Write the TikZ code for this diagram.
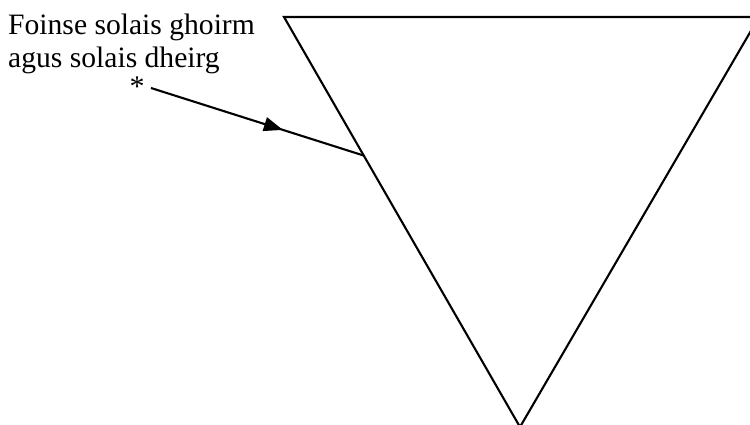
\documentclass[tikz,border=0pt]{standalone}
\usepackage{fontspec}
\setmainfont{Liberation Serif}
\usetikzlibrary{arrows.meta,decorations.markings,calc}
\begin{document}
\begin{tikzpicture}[x=1pt,y=-1pt,
  outline/.style={line width=2.1pt,line join=miter},
  pointer/.style={line width=2.1pt,
    decoration={markings,mark=at position 0.62 with {\arrow{Triangle[length=19pt,width=14pt]}}},
    postaction={decorate}},
  label/.style={font=\fontsize{29.6}{33}\selectfont,align=left,inner sep=0pt}]
\useasboundingbox (0,0) rectangle (750,425);
\clip (0,0) rectangle (750,425);
\coordinate (A) at (284,17);
\coordinate (B) at (759,17);
\coordinate (C) at (520,427);
\draw[outline] (A) -- (B) -- (C) -- cycle;
\node[label,anchor=base west] (txt) at (8,68) {Foinse solais ghoirm\\agus solais dheirg};
\node[font=\fontsize{30}{30}\selectfont,inner sep=0pt] (star) at (137,87) {*};
\coordinate (E) at ($(A)!0.338!(C)$);
\draw[pointer] (151,88) -- (E);
\end{tikzpicture}
\end{document}
